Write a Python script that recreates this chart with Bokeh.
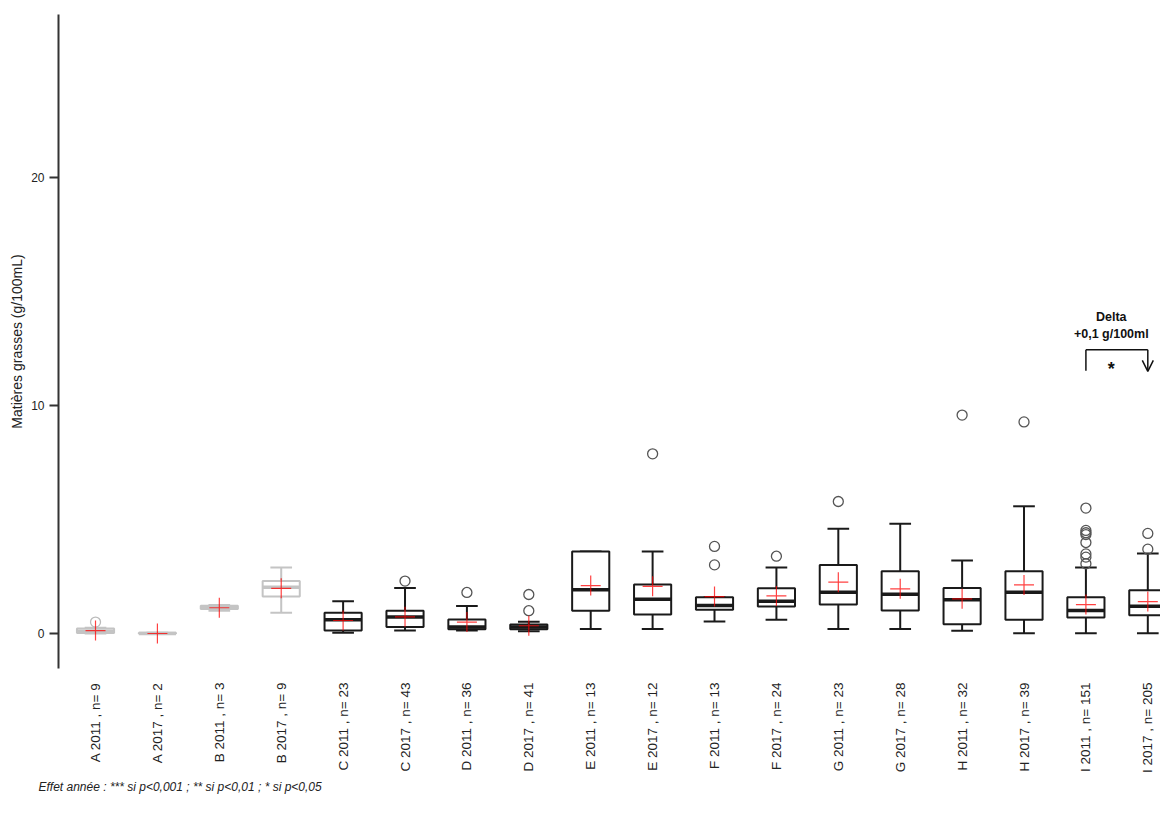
import math
from bokeh.plotting import figure
from bokeh.models import Range1d, FixedTicker, Title, Arrow, OpenHead
from bokeh.core.properties import value
from bokeh.embed import file_html
from bokeh.resources import INLINE

# ---- data ----
labels = ["A 2011 , n= 9", "A 2017 , n= 2", "B 2011 , n= 3", "B 2017 , n= 9",
          "C 2011 , n= 23", "C 2017 , n= 43", "D 2011 , n= 36", "D 2017 , n= 41",
          "E 2011 , n= 13", "E 2017 , n= 12", "F 2011 , n= 13", "F 2017 , n= 24",
          "G 2011 , n= 23", "G 2017 , n= 28", "H 2011 , n= 32", "H 2017 , n= 39",
          "I 2011 , n= 151", "I 2017 , n= 205"]
lower_whisker = [0.0, 0.0, 1.0, 0.91, 0.03, 0.13, 0.13, 0.10, 0.20, 0.20,
                 0.53, 0.60, 0.20, 0.20, 0.12, 0.01, 0.01, 0.01]
q1 = [0.02, 0.0, 1.07, 1.62, 0.13, 0.28, 0.19, 0.19, 1.00, 0.83,
      1.04, 1.18, 1.27, 1.01, 0.41, 0.60, 0.70, 0.80]
median = [0.10, 0.0, 1.15, 2.03, 0.60, 0.72, 0.28, 0.28, 1.92, 1.50,
          1.23, 1.42, 1.81, 1.72, 1.48, 1.81, 1.01, 1.20]
q3 = [0.22, 0.03, 1.22, 2.30, 0.91, 1.00, 0.61, 0.39, 3.60, 2.15,
      1.59, 1.99, 3.01, 2.73, 2.00, 2.73, 1.59, 1.90]
upper_whisker = [0.25, 0.03, 1.25, 2.90, 1.42, 2.00, 1.21, 0.52, 3.60, 3.60,
                 1.59, 2.90, 4.59, 4.81, 3.20, 5.58, 2.90, 3.51]
means = [0.13, 0.0, 1.13, 1.98, 0.57, 0.73, 0.50, 0.34, 2.10, 2.07,
         1.62, 1.65, 2.25, 1.96, 1.52, 2.13, 1.27, 1.40]
outlier_group = [1, 6, 7, 8, 8, 10, 11, 11, 12, 13, 15, 16,
                 17, 17, 17, 17, 17, 17, 17, 17, 18, 18]
outlier_value = [0.50, 2.30, 1.80, 1.00, 1.71, 7.88, 3.01, 3.82, 3.39, 5.79, 9.58, 9.28,
                 3.06, 3.35, 3.49, 3.99, 4.34, 4.42, 4.52, 5.50, 3.70, 4.39]
faded_groups = [1, 2, 3, 4]
y_ticks = [0, 10, 20]
delta_title = "Delta"
delta_text = "+0,1 g/100ml"
delta_sig = "*"
delta_pair = [17, 18]
footnote = "Effet année : *** si p<0,001 ; ** si p<0,01 ; * si p<0,05"

# ---- figure ----
FONT = "Liberation Sans"
p = figure(width=1160, height=819, output_backend="svg", toolbar_location=None,
           x_range=Range1d(0.402, 18.205), y_range=Range1d(-1.535, 27.15),
           min_border_left=58, min_border_right=0, min_border_top=14,
           min_border_bottom=151)
p.outline_line_color = None
p.grid.grid_line_color = None
p.background_fill_color = "white"
p.border_fill_color = "white"

ya = p.yaxis[0]
ya.ticker = FixedTicker(ticks=y_ticks)
ya.axis_line_color = "#333333"
ya.axis_line_width = 2
ya.major_tick_line_color = "#333333"
ya.major_tick_line_width = 2
ya.major_tick_out = 9
ya.major_tick_in = 0
ya.minor_tick_line_color = None
ya.major_label_text_font = FONT
ya.major_label_text_font_size = "12px"
ya.major_label_text_color = "#222222"
ya.major_label_standoff = 5
ya.axis_label = "Matières grasses (g/100mL)"
ya.axis_label_text_font = FONT
ya.axis_label_text_font_size = "14px"
ya.axis_label_text_font_style = "normal"
ya.axis_label_text_color = "#222222"
ya.axis_label_standoff = 3

xa = p.xaxis[0]
n = len(labels)
xs = list(range(1, n + 1))
xa.ticker = FixedTicker(ticks=xs)
xa.major_label_overrides = {i: labels[i - 1] for i in xs}
xa.axis_line_color = None
xa.major_tick_line_color = None
xa.minor_tick_line_color = None
xa.major_label_orientation = math.pi / 2
xa.major_label_standoff = 8
xa.major_label_text_font = FONT
xa.major_label_text_font_size = "13.5px"
xa.major_label_text_color = "#222222"

# ---- boxes ----
colors = ["#c4c4c4" if i in faded_groups else "#1a1a1a" for i in xs]
hw = 0.30
cw = 0.175
p.segment(x0=xs, y0=q3, x1=xs, y1=upper_whisker, line_color=colors, line_width=2)
p.segment(x0=xs, y0=q1, x1=xs, y1=lower_whisker, line_color=colors, line_width=2)
p.segment(x0=[x - cw for x in xs], y0=upper_whisker, x1=[x + cw for x in xs],
          y1=upper_whisker, line_color=colors, line_width=2)
p.segment(x0=[x - cw for x in xs], y0=lower_whisker, x1=[x + cw for x in xs],
          y1=lower_whisker, line_color=colors, line_width=2)
p.quad(left=[x - hw for x in xs], right=[x + hw for x in xs], bottom=q1, top=q3,
       fill_color="white", line_color=colors, line_width=2)
p.segment(x0=[x - hw for x in xs], y0=median, x1=[x + hw for x in xs], y1=median,
          line_color=colors, line_width=3.5)

# ---- outliers ----
out_colors = ["#bbbbbb" if g in faded_groups else "#555555" for g in outlier_group]
p.scatter(x=outlier_group, y=outlier_value, marker="circle", size=10,
          fill_color=None, line_color=out_colors, line_width=1.3)

# ---- means ----
p.scatter(x=xs, y=means, marker="cross", size=20, line_color="red",
          line_alpha=0.75, line_width=1.2)

# ---- Delta annotation ----
xl, xr = delta_pair
xm = (xl + xr) / 2 - 0.09
p.segment(x0=[xl, xl], y0=[11.53, 12.45], x1=[xl, xr], y1=[12.45, 12.45],
          line_color="#111111", line_width=1.5)
p.add_layout(Arrow(end=OpenHead(size=11, line_width=1.5, line_color="#111111"),
                   x_start=xr, y_start=12.45, x_end=xr, y_end=11.50,
                   line_color="#111111", line_width=1.5))
p.text(x=[xm, xm], y=[13.9, 13.15], text=[delta_title, delta_text],
       text_font=value(FONT), text_font_size="12.5px", text_font_style="bold",
       text_align="center", text_baseline="middle", text_color="#111111")
p.text(x=[xm], y=[11.6], text=[delta_sig], text_font=value(FONT),
       text_font_size="18px", text_font_style="bold", text_align="center",
       text_baseline="middle", text_color="#111111")

# ---- footnote ----
p.add_layout(Title(text=footnote, align="left", offset=-20,
                   text_font=FONT, text_font_size="12px",
                   text_font_style="italic", text_color="#222222",
                   standoff=4), "below")

open("out.html", "w").write(file_html(p, INLINE))
